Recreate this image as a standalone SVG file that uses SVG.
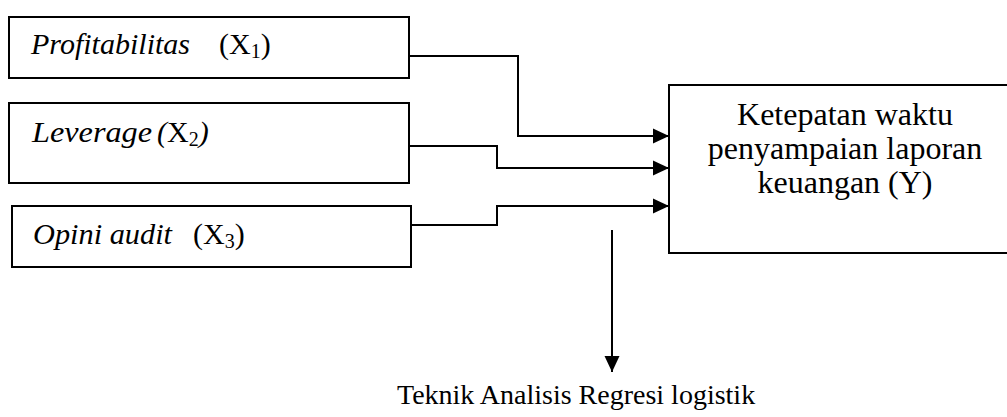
<svg xmlns="http://www.w3.org/2000/svg" width="1007" height="417" viewBox="0 0 1007 417">
<style>
.box{fill:#fff;stroke:#000;stroke-width:2}
text,tspan{font-family:"Liberation Serif","Times New Roman",Times,serif;fill:#000}
.i{font-style:italic}
.c{fill:none;stroke:#000;stroke-width:2}
</style>
<defs>
<marker id="ah" markerUnits="userSpaceOnUse" markerWidth="16" markerHeight="16" viewBox="0 0 16 16" refX="16" refY="8" orient="auto">
<path d="M0,0.5 L16,8 L0,15.5 Z" fill="#000"/>
</marker>
</defs>
<rect width="1007" height="417" fill="#fff"/>
<g id="node-x1">
<rect class="box" x="9" y="17" width="400" height="61"/>
<text font-family="Liberation Serif, serif" x="31" y="54" font-size="30"><tspan class="i" textLength="159" lengthAdjust="spacingAndGlyphs">Profitabilitas</tspan><tspan x="219">(X</tspan><tspan font-size="20" dy="4">1</tspan><tspan dy="-4">)</tspan></text>
</g>
<g id="node-x2">
<rect class="box" x="9" y="103" width="400" height="80"/>
<text font-family="Liberation Serif, serif" x="32" y="142" font-size="30"><tspan class="i" textLength="120" lengthAdjust="spacingAndGlyphs">Leverage</tspan><tspan class="i" x="157">(</tspan>X<tspan font-size="20" dy="4">2</tspan><tspan class="i" dy="-4">)</tspan></text>
</g>
<g id="node-x3">
<rect class="box" x="12" y="206" width="399" height="61"/>
<text font-family="Liberation Serif, serif" x="33" y="244" font-size="30"><tspan class="i" textLength="139" lengthAdjust="spacingAndGlyphs">Opini audit</tspan><tspan x="193">(X</tspan><tspan font-size="20" dy="4">3</tspan><tspan dy="-4">)</tspan></text>
</g>
<g id="node-y">
<rect class="box" x="669" y="85" width="345" height="168"/>
<text font-family="Liberation Serif, serif" x="845" font-size="32" text-anchor="middle"><tspan x="845" y="125">Ketepatan waktu</tspan><tspan x="845" y="159">penyampaian laporan</tspan><tspan x="845" y="193">keuangan (Y)</tspan></text>
</g>
<g id="node-teknik">
<text font-family="Liberation Serif, serif" x="397" y="404" font-size="28">Teknik Analisis Regresi logistik</text>
</g>
<g id="connectors">
<path class="c" d="M409,56 H518 V136 H669" marker-end="url(#ah)"/>
<path class="c" d="M409,146 H497 V168 H669" marker-end="url(#ah)"/>
<path class="c" d="M411,225 H497 V206 H669" marker-end="url(#ah)"/>
<path class="c" d="M612,230 V372" marker-end="url(#ah)"/>
</g>
</svg>
